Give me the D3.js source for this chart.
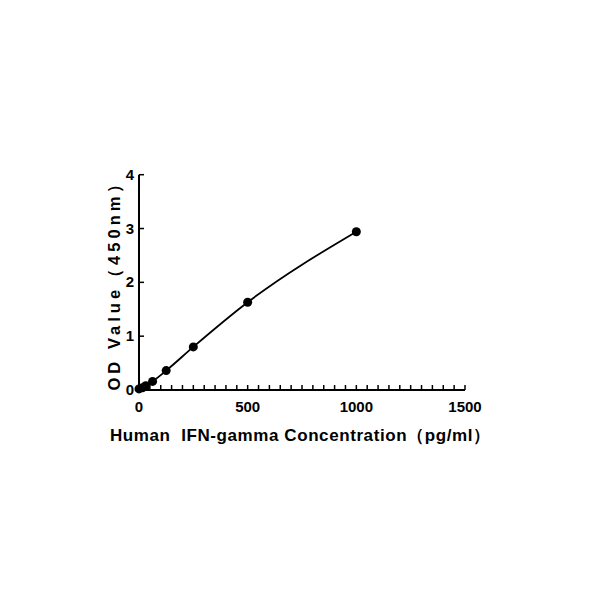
<!DOCTYPE html><html><head><script src="https://cdn.jsdelivr.net/npm/d3@7"></script>
<style>body{margin:0;background:#fff}text{white-space:pre}</style></head><body><svg id="c" width="600" height="600"></svg>
<script>
const conc=[0,15.6,31.25,62.5,125,250,500,1000];
const od=[0.02,0.04,0.08,0.16,0.36,0.80,1.63,2.94];
const xTicks=[0,500,1000,1500];
const yTicks=[0,1,2,3,4];
const svg=d3.select("#c");
const x=d3.scaleLinear().domain([0,1500]).range([139,465]);
const y=d3.scaleLinear().domain([0,4]).range([390,174.7]);
const g=svg.append("g").attr("font-family","Arial, Liberation Sans, sans-serif").attr("font-weight","bold");
g.append("line").attr("x1",x(0)).attr("x2",x(1500)).attr("y1",y(0)).attr("y2",y(0)).attr("stroke","#000").attr("stroke-width",2);
g.append("line").attr("x1",x(0)).attr("x2",x(0)).attr("y1",y(0)).attr("y2",y(4)).attr("stroke","#000").attr("stroke-width",2);
g.selectAll(".mx").data(d3.range(0,1501,50)).join("line").attr("x1",d=>x(d)).attr("x2",d=>x(d)).attr("y1",y(0)).attr("y2",y(0)-5).attr("stroke","#000").attr("stroke-width",1.5);
g.selectAll(".yt").data(yTicks).join("line").attr("x1",x(0)).attr("x2",x(0)+5).attr("y1",d=>y(d)).attr("y2",d=>y(d)).attr("stroke","#000").attr("stroke-width",1.5);
g.selectAll(".xl").data(xTicks).join("text").attr("x",d=>x(d)).attr("y",y(0)+22).attr("text-anchor","middle").attr("font-size",15).text(d=>d);
g.selectAll(".yl").data(yTicks).join("text").attr("x",x(0)-5).attr("y",d=>y(d)+5).attr("text-anchor","end").attr("font-size",15).text(d=>d);
g.append("text").attr("x",300).attr("y",441).attr("text-anchor","middle").attr("font-size",17).attr("textLength",380).text("Human  IFN-gamma Concentration（pg/ml）");
g.append("text").attr("transform","translate(120,283) rotate(-90)").attr("text-anchor","middle").attr("font-size",16.5).attr("textLength",215).text("OD Value（450nm）");
const pts=conc.map((c,i)=>[c,od[i]]);
g.append("path").attr("d",d3.line().x(d=>x(d[0])).y(d=>y(d[1])).curve(d3.curveMonotoneX)(pts)).attr("fill","none").attr("stroke","#000").attr("stroke-width",1.8);
g.selectAll("circle").data(pts).join("circle").attr("cx",d=>x(d[0])).attr("cy",d=>y(d[1])).attr("r",4.5).attr("fill","#000");
</script></body></html>
